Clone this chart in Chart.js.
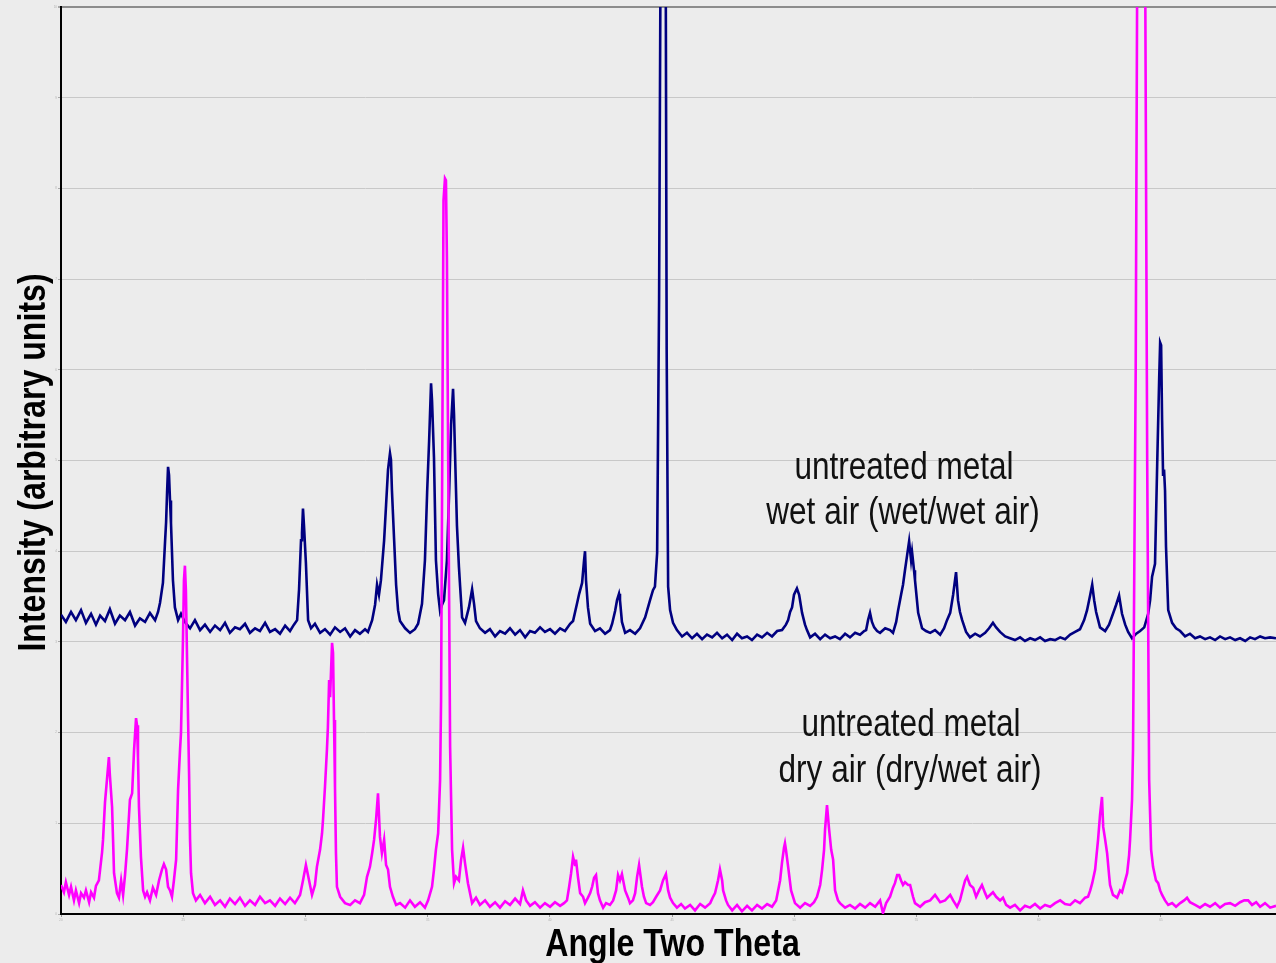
<!DOCTYPE html>
<html>
<head>
<meta charset="utf-8">
<script src="https://cdn.jsdelivr.net/npm/chart.js@4.4.1/dist/chart.umd.min.js"></script>
<style>
  html, body { margin: 0; padding: 0; background: #ececec; overflow: hidden; }
  #wrap { position: relative; width: 1276px; height: 963px; }
</style>
</head>
<body>
<div id="wrap"><canvas id="c" role="img" aria-label="X-ray diffraction patterns: Intensity (arbitrary units) versus Angle Two Theta"></canvas></div>
<script>
// ---- Data (angle in degrees 2θ, intensity in arbitrary units) ----
const xTickValues = [20, 25, 30, 35, 40, 45, 50, 55, 60, 65];
const yTickValues = [0, 1, 2, 3, 4, 5, 6, 7, 8, 9, 10];
const xTitle = 'Angle Two Theta';
const yTitle = 'Intensity (arbitrary units)';
const wetLabel = ['untreated metal', 'wet air (wet/wet air)'];
const dryLabel = ['untreated metal', 'dry air (dry/wet air)'];
const wetName = 'wet/wet air';
const dryName = 'dry/wet air';

const wetAngle = [
  20.00,20.20,20.41,20.61,20.82,21.02,21.23,21.43,21.60,21.80,22.00,22.21,22.41,22.62,22.82,23.03,23.23,23.44,23.64,23.85,
  23.97,24.05,24.17,24.26,24.30,24.34,24.38,24.42,24.46,24.50,24.58,24.66,24.79,
  24.91,25.07,25.28,25.48,25.69,25.89,26.10,26.30,26.51,26.71,26.91,27.12,27.32,27.53,27.73,27.94,28.14,28.35,28.55,28.76,28.96,29.17,29.37,29.53,29.66,
  29.74,29.82,29.86,29.90,29.94,30.02,30.11,
  30.23,30.39,30.60,30.80,31.01,31.21,31.42,31.62,31.83,32.03,32.23,32.44,32.56,
  32.73,32.85,32.93,33.01,33.09,33.22,33.30,33.38,33.46,33.50,33.54,33.63,33.71,33.79,33.87,
  34.08,34.28,34.48,34.61,34.77,34.89,34.98,35.06,35.14,35.18,35.26,35.34,35.43,35.51,35.59,35.67,35.79,35.88,35.96,36.04,36.08,36.12,36.20,36.28,36.33,36.41,36.53,36.69,36.82,36.90,36.98,
  37.14,37.35,37.55,37.76,37.96,38.17,38.37,38.58,38.78,38.99,39.19,39.39,39.60,39.80,40.01,40.21,40.42,40.62,40.83,
  40.95,41.11,41.20,41.32,41.40,41.44,41.48,41.56,41.65,
  41.85,42.05,42.26,42.46,
  42.55,42.67,42.75,42.83,42.87,42.95,
  43.08,43.28,43.49,43.69,43.90,44.10,44.22,44.30,44.39,44.47,44.53,44.63,44.74,44.78,44.84,44.92,45.04,
  45.20,45.41,45.61,45.82,46.02,46.23,46.43,46.64,46.84,47.05,47.25,47.46,47.66,47.86,48.07,48.27,48.48,48.68,48.89,49.09,49.30,49.50,
  49.66,49.75,49.83,49.91,49.99,50.11,50.20,50.32,50.44,50.52,
  50.65,50.85,51.06,51.26,51.47,51.67,51.87,52.08,52.28,52.49,52.69,52.86,
  52.94,53.02,53.10,53.18,53.27,53.39,53.51,53.72,53.92,54.04,
  54.17,54.25,54.37,54.45,54.53,54.62,54.70,54.78,54.82,54.90,54.94,55.07,
  55.23,55.39,55.56,55.76,55.97,56.13,56.25,56.38,56.50,56.62,56.70,56.78,56.87,57.03,
  57.19,57.40,57.60,57.81,57.97,58.13,58.26,58.42,58.63,58.83,59.03,59.24,59.44,59.65,59.85,60.06,60.26,60.47,60.67,60.88,61.08,61.29,61.49,61.69,
  61.86,61.98,62.11,62.19,62.27,62.35,62.51,62.72,62.88,63.04,63.17,63.29,63.41,63.54,63.66,63.82,63.99,64.15,64.32,
  64.48,64.56,64.64,64.76,64.85,64.93,64.97,65.01,65.05,65.09,65.13,65.17,65.21,65.30,
  65.46,65.62,65.79,65.99,66.19,66.40,66.60,66.81,67.01,67.22,67.42,67.63,67.83,68.04,68.24,68.45,68.65,68.85,69.06,69.26,69.47,69.71
];
const wetIntensity = [
  3.30,3.22,3.33,3.24,3.35,3.21,3.31,3.19,3.29,3.23,3.36,3.20,3.29,3.24,3.33,3.18,3.26,3.22,3.32,3.24,
  3.33,3.43,3.65,4.12,4.32,4.65,4.93,4.84,4.56,4.31,3.68,3.38,3.24,
  3.31,3.22,3.15,3.24,3.13,3.19,3.11,3.18,3.13,3.21,3.10,3.16,3.14,3.20,3.10,3.15,3.12,3.21,3.11,3.14,3.09,3.18,3.12,3.19,3.24,
  3.58,4.12,4.20,4.47,4.29,3.87,3.24,
  3.15,3.20,3.10,3.14,3.08,3.16,3.11,3.15,3.06,3.13,3.09,3.14,3.11,
  3.24,3.41,3.63,3.52,3.68,4.12,4.51,4.90,5.08,5.01,4.67,4.12,3.63,3.35,3.23,
  3.15,3.10,3.14,3.20,3.42,3.90,4.65,5.21,5.85,5.66,5.03,3.90,3.53,3.34,3.41,3.46,3.90,4.65,5.39,5.79,5.51,5.09,4.28,3.83,3.61,3.27,3.21,3.38,3.58,3.42,3.23,
  3.15,3.10,3.14,3.06,3.12,3.09,3.15,3.08,3.13,3.05,3.12,3.10,3.16,3.11,3.14,3.09,3.15,3.12,3.20,
  3.23,3.42,3.53,3.65,3.90,4.00,3.68,3.38,3.20,
  3.12,3.15,3.09,3.13,
  3.20,3.34,3.46,3.53,3.46,3.22,
  3.10,3.13,3.09,3.15,3.27,3.46,3.57,3.61,3.98,6.77,10.6,13.0,10.6,6.22,3.61,3.35,3.21,
  3.13,3.06,3.10,3.04,3.09,3.03,3.08,3.05,3.10,3.04,3.08,3.02,3.09,3.04,3.06,3.02,3.08,3.05,3.10,3.06,3.12,3.13,
  3.19,3.24,3.33,3.38,3.52,3.59,3.52,3.32,3.19,3.13,
  3.05,3.09,3.03,3.08,3.04,3.06,3.03,3.09,3.05,3.10,3.08,3.12,
  3.13,3.24,3.32,3.22,3.16,3.12,3.10,3.15,3.13,3.10,
  3.22,3.35,3.52,3.63,3.79,3.96,4.11,3.90,3.99,3.79,3.68,3.32,
  3.15,3.12,3.10,3.13,3.08,3.15,3.24,3.32,3.52,3.77,3.46,3.33,3.24,3.11,
  3.05,3.09,3.06,3.10,3.15,3.21,3.16,3.11,3.06,3.04,3.02,3.05,3.01,3.04,3.02,3.05,3.01,3.03,3.02,3.05,3.03,3.08,3.11,3.14,
  3.24,3.35,3.52,3.63,3.46,3.33,3.16,3.12,3.19,3.31,3.41,3.51,3.31,3.19,3.11,3.04,3.09,3.12,3.16,
  3.31,3.46,3.72,3.86,4.97,5.90,6.30,6.27,5.44,4.83,4.90,4.67,4.05,3.35,
  3.21,3.15,3.12,3.06,3.09,3.04,3.06,3.03,3.05,3.02,3.06,3.03,3.05,3.02,3.04,3.01,3.05,3.03,3.06,3.04,3.05,3.04
];

const dryAngle = [
  20.00,20.12,20.20,20.33,20.41,20.53,20.61,20.74,20.82,20.94,21.02,21.15,21.23,21.35,21.43,21.55,
  21.60,21.68,21.72,21.80,21.88,21.96,22.00,22.09,22.13,22.17,22.29,22.37,22.46,22.54,22.62,22.70,22.74,22.82,22.91,22.99,23.07,23.11,23.15,23.19,23.27,23.36,23.44,23.52,23.64,
  23.76,23.89,24.01,24.13,24.21,24.30,24.38,24.46,24.54,24.62,24.71,24.79,24.87,24.91,24.99,25.03,25.07,25.11,25.16,25.20,25.24,25.28,25.32,25.40,25.52,
  25.69,25.89,26.10,26.30,26.51,26.71,26.91,27.12,27.32,27.53,27.73,27.94,28.14,28.35,28.55,28.76,28.96,29.17,29.37,29.57,29.78,
  29.90,30.02,30.15,30.27,30.39,30.47,30.60,30.68,30.72,30.80,30.88,30.92,30.97,31.01,31.05,31.09,31.13,31.17,31.21,31.25,31.29,31.42,
  31.62,31.83,32.03,32.23,32.40,32.52,32.64,32.73,32.81,32.89,32.97,33.05,33.13,33.22,33.30,33.38,33.46,33.58,33.71,33.87,34.08,34.28,34.48,34.69,34.89,35.02,
  35.18,35.26,35.34,35.43,35.51,35.55,35.61,35.65,35.71,35.75,35.79,35.83,35.88,35.92,36.00,36.08,36.16,36.28,36.37,36.45,36.53,36.65,36.82,
  36.98,37.14,37.35,37.55,37.76,37.96,38.17,38.37,38.58,38.78,38.90,39.03,39.19,39.39,39.60,39.80,40.01,40.21,40.42,40.58,40.70,
  40.79,40.87,40.95,41.03,41.07,41.15,41.24,41.36,41.44,41.56,41.65,41.73,41.81,41.89,41.97,42.05,42.18,42.30,42.46,42.59,42.71,42.79,42.87,42.95,43.08,43.20,43.28,43.40,43.49,43.57,43.65,43.69,43.77,43.85,43.94,44.10,44.22,44.35,44.51,44.63,44.75,44.84,
  44.92,45.04,45.20,45.37,45.53,45.74,45.94,46.15,46.35,46.56,46.68,46.76,46.88,46.96,47.05,47.09,47.21,47.29,47.46,47.66,47.86,48.07,48.27,48.48,48.68,48.89,49.09,49.26,
  49.34,49.42,49.50,49.58,49.62,49.66,49.75,49.87,50.03,50.24,50.44,50.65,50.81,50.93,51.06,51.14,51.22,51.26,51.34,51.42,51.51,51.59,51.67,51.79,51.87,
  52.08,52.28,52.49,52.69,52.90,53.10,53.31,53.51,53.63,53.76,53.92,54.04,54.12,54.21,54.29,54.37,54.45,54.53,54.66,54.74,54.86,54.94,
  55.15,55.35,55.56,55.76,55.97,56.17,56.38,56.50,56.66,56.78,56.91,56.99,57.07,57.19,57.32,57.44,57.56,57.68,57.81,57.89,58.01,58.13,58.26,58.42,58.54,
  58.67,58.83,59.03,59.24,59.44,59.65,59.85,60.06,60.26,60.47,60.67,60.88,61.08,61.29,61.49,61.69,61.90,62.02,
  62.11,62.19,62.31,62.39,62.43,62.51,62.59,62.64,62.72,62.80,62.88,62.92,63.04,63.21,63.33,63.41,63.54,63.62,63.70,63.74,63.82,63.86,
  63.97,64.03,64.19,64.36,64.44,64.52,64.60,64.68,64.80,64.89,64.97,
  65.05,65.17,65.30,65.46,65.62,65.79,65.95,66.07,66.19,66.40,66.60,66.81,67.01,67.22,67.42,67.63,67.83,68.04,68.24,68.41,68.57,68.73,68.90,69.06,69.26,69.47,69.71
];
const dryIntensity = [
  0.32,0.24,0.35,0.21,0.30,0.15,0.26,0.12,0.23,0.18,0.26,0.13,0.24,0.18,0.31,0.37,
  0.49,0.68,0.82,1.23,1.48,1.73,1.53,1.18,0.82,0.45,0.23,0.18,0.37,0.21,0.43,0.71,0.89,1.26,1.33,1.81,2.16,2.08,1.73,1.18,0.63,0.26,0.19,0.24,0.15,
  0.29,0.21,0.37,0.49,0.55,0.49,0.30,0.26,0.19,0.37,0.60,1.37,1.81,2.00,3.02,3.68,3.84,3.57,2.77,2.14,1.55,0.82,0.45,0.23,0.15,
  0.21,0.12,0.19,0.10,0.15,0.08,0.17,0.11,0.18,0.09,0.15,0.10,0.19,0.12,0.15,0.09,0.17,0.11,0.18,0.12,0.21,
  0.37,0.54,0.37,0.21,0.32,0.52,0.71,0.89,1.04,1.40,1.81,2.06,2.58,2.39,2.69,2.99,2.88,2.14,1.40,0.67,0.30,0.19,
  0.12,0.10,0.15,0.12,0.21,0.41,0.52,0.67,0.82,1.04,1.33,0.85,0.67,0.82,0.54,0.49,0.30,0.19,0.10,0.12,0.07,0.15,0.08,0.13,0.07,0.15,
  0.30,0.49,0.71,0.89,1.48,2.36,5.67,7.87,8.11,8.09,7.21,5.45,3.46,1.84,0.71,0.34,0.41,0.37,0.60,0.73,0.56,0.34,0.12,
  0.18,0.10,0.15,0.08,0.13,0.07,0.14,0.10,0.17,0.11,0.26,0.15,0.09,0.13,0.07,0.12,0.08,0.13,0.09,0.12,0.15,
  0.30,0.45,0.63,0.54,0.60,0.41,0.23,0.19,0.12,0.18,0.23,0.30,0.40,0.43,0.23,0.15,0.07,0.12,0.10,0.15,0.26,0.43,0.37,0.44,0.26,0.18,0.12,0.15,0.23,0.41,0.54,0.46,0.30,0.19,0.12,0.10,0.13,0.19,0.26,0.37,0.44,0.26,
  0.18,0.12,0.07,0.11,0.06,0.10,0.04,0.11,0.07,0.12,0.19,0.23,0.37,0.49,0.37,0.26,0.15,0.10,0.04,0.10,0.03,0.09,0.04,0.10,0.06,0.11,0.08,0.15,
  0.26,0.37,0.57,0.73,0.78,0.71,0.52,0.26,0.12,0.07,0.12,0.09,0.13,0.19,0.32,0.49,0.71,0.93,1.20,0.95,0.71,0.60,0.26,0.15,0.12,
  0.07,0.10,0.06,0.11,0.07,0.12,0.08,0.15,0.01,0.12,0.19,0.29,0.34,0.43,0.43,0.37,0.32,0.35,0.32,0.32,0.19,0.12,
  0.08,0.13,0.15,0.21,0.13,0.15,0.21,0.15,0.08,0.15,0.29,0.37,0.41,0.32,0.29,0.19,0.26,0.32,0.23,0.18,0.21,0.24,0.19,0.15,0.18,
  0.10,0.07,0.10,0.04,0.09,0.07,0.11,0.06,0.10,0.08,0.12,0.15,0.11,0.10,0.15,0.12,0.18,0.19,
  0.26,0.34,0.49,0.71,0.82,1.09,1.29,0.96,0.82,0.67,0.43,0.32,0.21,0.18,0.26,0.24,0.37,0.45,0.65,0.82,1.26,1.81,
  6.0,10.3,12.0,10.3,5.0,1.48,0.71,0.52,0.37,0.34,0.26,
  0.21,0.15,0.10,0.12,0.08,0.12,0.15,0.18,0.13,0.10,0.07,0.11,0.08,0.12,0.07,0.11,0.12,0.09,0.13,0.15,0.15,0.10,0.13,0.08,0.12,0.07,0.09
];

// ---- Build chart ----
const toPoints = (xs, ys) => xs.slice(0, Math.min(xs.length, ys.length)).map((x, i) => ({ x: x, y: ys[i] }));
if (wetAngle.length !== wetIntensity.length) console.warn('wet length mismatch', wetAngle.length, wetIntensity.length);
if (dryAngle.length !== dryIntensity.length) console.warn('dry length mismatch', dryAngle.length, dryIntensity.length);

const FONT = "'Liberation Sans Narrow', 'Arial Narrow', 'Liberation Sans', Arial, sans-serif";
const NARROW = 0.83;       // horizontal squeeze to imitate a narrow sans face
const NARROW_BOLD = 0.845;

function narrowText(ctx, text, x, y, squeeze, angle) {
  ctx.save();
  ctx.translate(x, y);
  if (angle) ctx.rotate(angle);
  ctx.scale(squeeze, 1);
  ctx.fillText(text, 0, 0);
  ctx.restore();
}

const textPlugin = {
  id: 'chartTexts',
  afterDraw(chart) {
    const ctx = chart.ctx;
    const area = chart.chartArea;
    ctx.save();
    ctx.fillStyle = '#000';
    ctx.textAlign = 'center';
    // axis titles
    ctx.font = "bold 38px " + FONT;
    ctx.textBaseline = 'middle';
    narrowText(ctx, xTitle, (area.left + area.right) / 2 + 4, 946, NARROW_BOLD, 0);
    narrowText(ctx, yTitle, 35, (area.top + area.bottom) / 2 + 2, NARROW_BOLD, -Math.PI / 2);
    // series annotations
    ctx.fillStyle = '#111';
    ctx.font = "38px " + FONT;
    ctx.textBaseline = 'alphabetic';
    narrowText(ctx, wetLabel[0], 904, 479, NARROW, 0);
    narrowText(ctx, wetLabel[1], 903, 524, NARROW, 0);
    narrowText(ctx, dryLabel[0], 911, 736, NARROW, 0);
    narrowText(ctx, dryLabel[1], 910, 782, NARROW, 0);
    ctx.restore();
  }
};

new Chart(document.getElementById('c'), {
  type: 'line',
  data: {
    datasets: [
      { label: dryName, data: toPoints(dryAngle, dryIntensity), borderColor: '#ff00ff', borderWidth: 2.6, pointRadius: 0, tension: 0, fill: false },
      { label: wetName, data: toPoints(wetAngle, wetIntensity), borderColor: '#000080', borderWidth: 2.6, pointRadius: 0, tension: 0, fill: false }
    ]
  },
  options: {
    responsive: true,
    maintainAspectRatio: false,
    animation: false,
    layout: { padding: { top: 7, right: 0, bottom: 0, left: 0 } },
    plugins: { legend: { display: false }, tooltip: { enabled: false } },
    scales: {
      x: {
        type: 'linear',
        min: 20,
        max: 69.71,
        afterBuildTicks: (s) => { s.ticks = xTickValues.map(v => ({ value: v })); },
        afterFit: (s) => { s.height = 49; },
        grid: { drawOnChartArea: false, drawTicks: true, tickLength: 3, tickColor: '#9a9a9a' },
        border: { display: true, color: '#000', width: 2 },
        ticks: { font: { size: 3 }, color: '#b0b0b0', padding: 1, maxRotation: 0, autoSkip: false },
        title: { display: false, text: xTitle }
      },
      y: {
        type: 'linear',
        min: 0,
        max: 10,
        afterBuildTicks: (s) => { s.ticks = yTickValues.map(v => ({ value: v })); },
        afterFit: (s) => { s.width = 61; },
        grid: {
          color: (c) => (c.tick && c.tick.value === 10) ? '#8c8c8c' : '#c8c8c8',
          lineWidth: (c) => (c.tick && c.tick.value === 10) ? 2 : 1,
          drawTicks: true, tickLength: 3, tickColor: '#a8a8a8'
        },
        border: { display: true, color: '#000', width: 2 },
        ticks: { font: { size: 3 }, color: '#b0b0b0', padding: 1 },
        title: { display: false, text: yTitle }
      }
    }
  },
  plugins: [textPlugin]
});
</script>
</body>
</html>
